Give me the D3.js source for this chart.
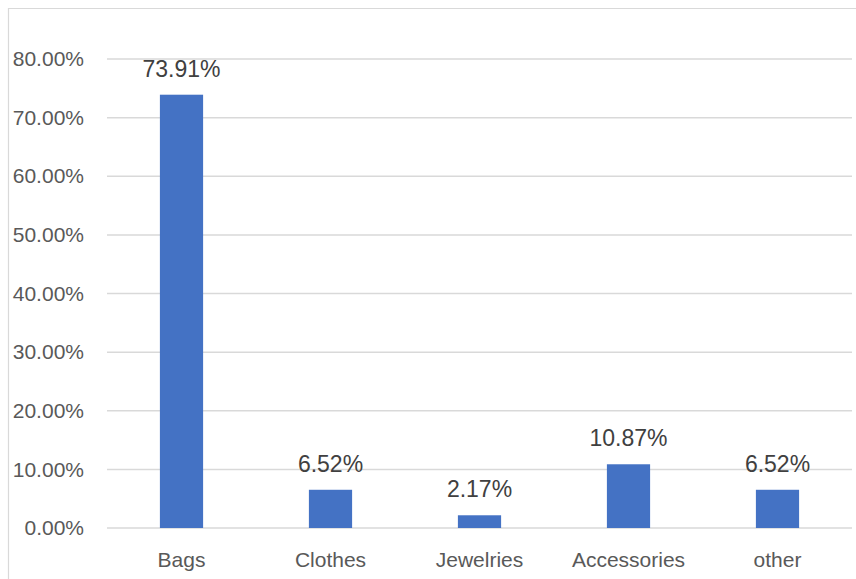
<!DOCTYPE html>
<html>
<head>
<meta charset="utf-8">
<script src="https://cdn.jsdelivr.net/npm/d3@7"></script>
<style>
  html, body { margin: 0; padding: 0; background: #fff; }
  svg { display: block; font-family: "Liberation Sans", Arial, sans-serif; }
</style>
</head>
<body>
<svg id="chart" width="856" height="579"></svg>
<script>
// Share of items by category
const categories = ["Bags", "Clothes", "Jewelries", "Accessories", "other"];
const shares = [0.7391, 0.0652, 0.0217, 0.1087, 0.0652];
const yTicks = [0, 0.1, 0.2, 0.3, 0.4, 0.5, 0.6, 0.7, 0.8];

const svg = d3.select("#chart");
const plot = { left: 107, right: 852, top: 59, bottom: 528 };

// outer frame (top and left edges visible)
svg.append("path")
  .attr("d", "M8.5,579 V8.5 H856")
  .attr("fill", "none")
  .attr("stroke", "#d9d9d9")
  .attr("stroke-width", 1.2);

const x = d3.scaleBand()
  .domain(categories)
  .range([plot.left, plot.right])
  .paddingInner(0.71)
  .paddingOuter(0.355);

const y = d3.scaleLinear()
  .domain([0, 0.8])
  .range([plot.bottom, plot.top]);

const pct = d3.format(".2%");

// horizontal gridlines
svg.append("g")
  .selectAll("line")
  .data(yTicks)
  .join("line")
  .attr("x1", plot.left)
  .attr("x2", plot.right)
  .attr("y1", d => y(d))
  .attr("y2", d => y(d))
  .attr("stroke", "#d9d9d9")
  .attr("stroke-width", 1.5);

// y-axis labels
const yAxis = d3.axisLeft(y).tickValues(yTicks).tickFormat(pct).tickSize(0).tickPadding(0);
const gy = svg.append("g")
  .attr("transform", `translate(84,0)`)
  .call(yAxis);
gy.select(".domain").remove();
gy.selectAll("text")
  .attr("font-size", 21)
  .attr("fill", "#595959")
  .attr("font-family", "Liberation Sans, Arial, sans-serif");

// x-axis category labels
const xAxis = d3.axisBottom(x).tickSize(0).tickPadding(0);
const gx = svg.append("g")
  .attr("transform", `translate(0,${plot.bottom})`)
  .call(xAxis);
gx.select(".domain").remove();
gx.selectAll("text")
  .attr("dy", null)
  .attr("y", 39)
  .attr("font-size", 21)
  .attr("fill", "#595959")
  .attr("font-family", "Liberation Sans, Arial, sans-serif");

// bars
svg.append("g")
  .selectAll("rect")
  .data(categories)
  .join("rect")
  .attr("x", d => x(d))
  .attr("width", x.bandwidth())
  .attr("y", (d, i) => y(shares[i]))
  .attr("height", (d, i) => y(0) - y(shares[i]))
  .attr("fill", "#4472c4");

// value labels
svg.append("g")
  .selectAll("text")
  .data(categories)
  .join("text")
  .attr("x", d => x(d) + x.bandwidth() / 2)
  .attr("y", (d, i) => y(shares[i]) - 18)
  .attr("text-anchor", "middle")
  .attr("font-size", 23)
  .attr("fill", "#404040")
  .text((d, i) => pct(shares[i]));
</script>
</body>
</html>
